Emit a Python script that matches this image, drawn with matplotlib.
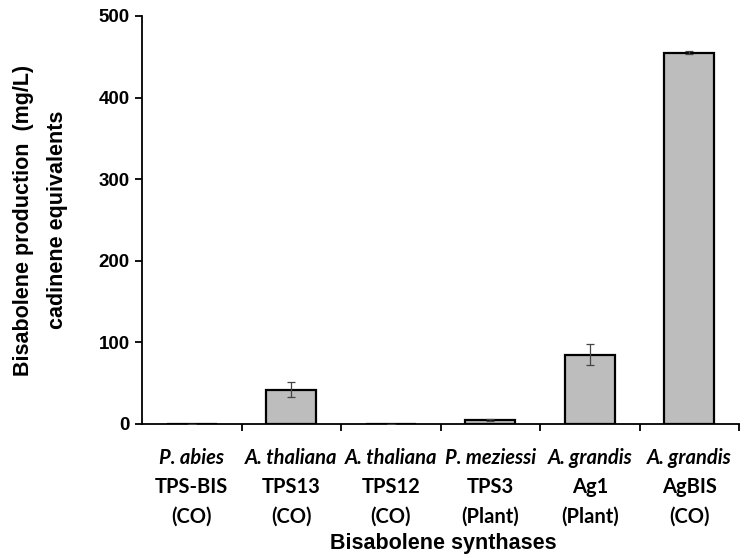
import matplotlib
matplotlib.use("Agg")
import matplotlib.pyplot as plt
import numpy as np

species = ["P. abies", "A. thaliana", "A. thaliana", "P. meziessi", "A. grandis", "A. grandis"]
enzymes = ["TPS-BIS", "TPS13", "TPS12", "TPS3", "Ag1", "AgBIS"]
origins = ["(CO)", "(CO)", "(CO)", "(Plant)", "(Plant)", "(CO)"]
production = [0, 42, 0, 5, 85, 455]
errors = [0, 9, 0, 1, 13, 2]

fig = plt.figure(figsize=(7.49, 5.58), dpi=100)
ax = fig.add_axes([142 / 749, 1 - 424 / 558, 597 / 749, 408 / 558])

x = np.arange(len(enzymes))
ax.bar(x, production, width=0.5, color="#bdbdbd", edgecolor="black", linewidth=1.6, zorder=2)
ax.errorbar(x, production, yerr=errors, fmt="none", ecolor="#444444", elinewidth=0.9,
            capsize=3, capthick=0.9, zorder=3)

ax.set_xlim(-0.5, len(enzymes) - 0.5)
ax.set_ylim(0, 500)
ax.set_yticks(np.arange(0, 501, 100))
for s in ("top", "right"):
    ax.spines[s].set_visible(False)
for s in ("left", "bottom"):
    ax.spines[s].set_linewidth(1.3)

ax.set_xticks(x)
ax.set_xticklabels([])
ax.tick_params(axis="x", which="major", length=0)
ax.set_xticks(x + 0.5, minor=True)
ax.tick_params(axis="x", which="minor", length=5, width=1.3, direction="out")
ax.tick_params(axis="y", length=5, width=1.3, direction="out", pad=4)
for lab in ax.get_yticklabels():
    lab.set_fontfamily("Liberation Sans")
    lab.set_fontweight("bold")
    lab.set_fontsize(13.5)

trans = ax.get_xaxis_transform()
tick_font = dict(fontfamily="Lato", fontweight="bold", fontsize=14.5,
                 ha="center", va="center", transform=trans)
for i in range(len(enzymes)):
    ax.text(i, -0.083, species[i], fontstyle="italic", **tick_font)
    ax.text(i, -0.154, enzymes[i], **tick_font)
    ax.text(i, -0.228, origins[i], **tick_font)

label_font = dict(fontfamily="Liberation Sans", fontweight="bold", fontsize=15.5,
                  ha="center", va="center")
fig.text(443 / 749, 1 - 544 / 558, "Bisabolene synthases", **label_font)
fig.text(24 / 749, 1 - 220 / 558, "Bisabolene production  (mg/L)", rotation=90, **label_font)
fig.text(58 / 749, 1 - 220 / 558, "cadinene equivalents", rotation=90, **label_font)

fig.savefig("out.png", dpi=100)
